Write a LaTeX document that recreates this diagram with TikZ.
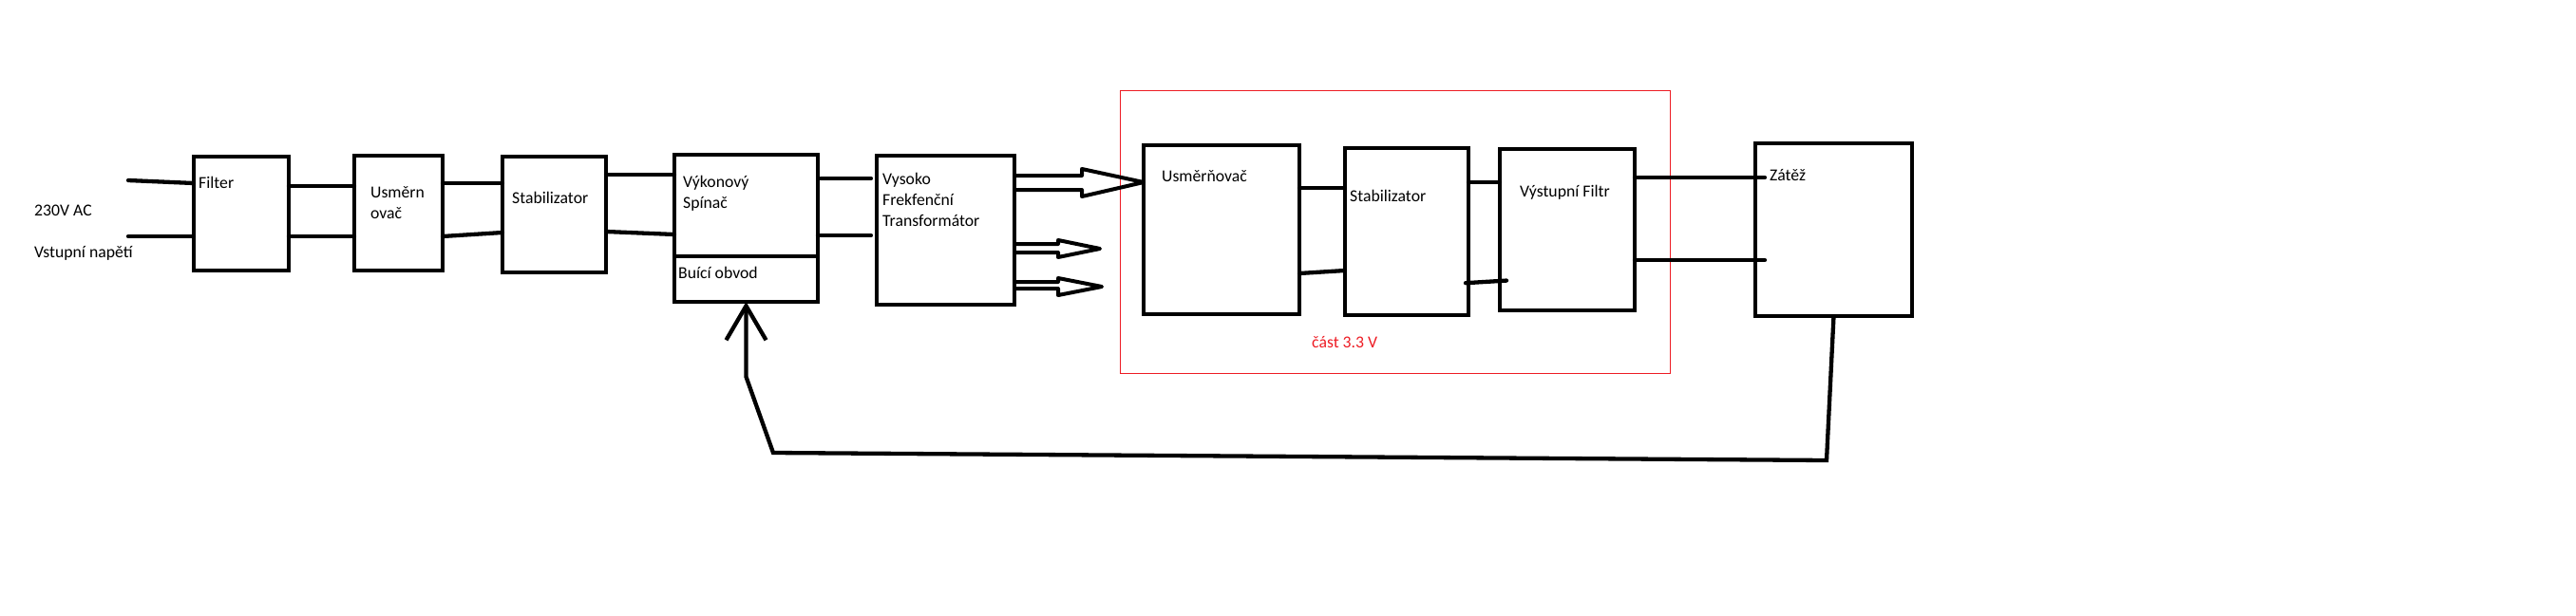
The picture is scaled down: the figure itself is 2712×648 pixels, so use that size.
\documentclass[tikz,border=0pt]{standalone}
\usepackage{fontspec}
\setmainfont{Carlito}
\usepackage{tikz}
\usetikzlibrary{arrows.meta,positioning}
\definecolor{paintred}{RGB}{237,28,36}

\begin{document}
\begin{tikzpicture}[x=1pt,y=-1pt,
block/.style={
rectangle,
draw,
line width=4.3pt,
inner sep=0pt,
outer sep=0pt
},
txt/.style={anchor=base west,inner sep=0pt,align=left,font=\fontsize{17.7}{22}\selectfont},
wire/.style={line width=4.3pt,line cap=round},
hollow/.style={line width=4pt,line join=round,line cap=round},
]
\useasboundingbox (0,0) rectangle (2712,648);
\node (cast) [rectangle,draw=paintred,line width=1pt,minimum width=579pt,minimum height=298pt] at (1468.5,244) {};
\node (filter) [block,minimum width=100pt,minimum height=120pt] at (254,225) {};
\node (usmern) [block,minimum width=93pt,minimum height=121pt] at (419.5,224.5) {};
\node (stab) [block,minimum width=109pt,minimum height=122pt] at (583.5,226) {};
\node (vykon) [block,minimum width=151pt,minimum height=107pt] at (785.5,216.5) {};
\node (buici) [block,minimum width=151pt,minimum height=48pt] at (785.5,294) {};
\node (vysoko) [block,minimum width=145pt,minimum height=157pt] at (995.5,242.5) {};
\node (usmer) [block,minimum width=164pt,minimum height=178pt] at (1286,242) {};
\node (stabb) [block,minimum width=130pt,minimum height=176pt] at (1481,244) {};
\node (vystup) [block,minimum width=142pt,minimum height=170pt] at (1650,242) {};
\node (zatez) [block,minimum width=165pt,minimum height=182pt] at (1930.5,242) {};
% texts (base = last line)
\node (lblac) [txt] at (36,227) {230V AC};
\node (lblin) [txt] at (36,271) {Vstupní napětí};
\node (lblfilter) [txt] at (209,198) {Filter};
\node (lblusmern) [txt] at (390,230) {Usměrn\\ovač};
\node (lblstab) [txt] at (539,214) {Stabilizator};
\node (lblvykon) [txt] at (719,219) {Výkonový\\Spínač};
\node (lblbuici) [txt] at (714,293) {Buící obvod};
\node (lblvysoko) [txt] at (929,238) {Vysoko\\Frekfenční\\Transformátor};
\node (lblusmer) [txt] at (1223,191) {Usměrňovač};
\node (lblstabb) [txt] at (1421,212) {Stabilizator};
\node (lblvystup) [txt] at (1600,207) {Výstupní Filtr};
\node (lblzatez) [txt] at (1863,190) {Zátěž};
\node (lblcast) [txt,text=paintred] at (1381,366) {část 3.3 V};
% wires
\coordinate (ac1) at (135,190);
\coordinate (ac2) at (135,249);
\draw[wire] (ac1) -- (filter.west |- 0,193);
\draw[wire] (ac2) -- (filter.west |- 0,249);
\draw[wire] (filter.east |- 0,196) -- (usmern.west |- 0,196);
\draw[wire] (filter.east |- 0,249) -- (usmern.west |- 0,249);
\draw[wire] (usmern.east |- 0,193) -- (stab.west |- 0,193);
\draw[wire] (usmern.east |- 0,249) -- (stab.west |- 0,245);
\draw[wire] (stab.east |- 0,184) -- (vykon.west |- 0,184);
\draw[wire] (stab.east |- 0,244) -- (vykon.west |- 0,247);
\draw[wire,shorten <=3pt,shorten >=6pt] (vykon.east |- 0,188) -- (vysoko.west |- 0,188);
\draw[wire,shorten >=6pt] (vykon.east |- 0,248) -- (vysoko.west |- 0,248);
\draw[wire] (usmer.east |- 0,198) -- (stabb.west |- 0,198);
\draw[wire] (usmer.east |- 0,288) -- (stabb.west |- 0,285);
\draw[wire] (stabb.east |- 0,192) -- (vystup.west |- 0,192);
\draw[wire,shorten <=-3pt,shorten >=-7pt] (stabb.east |- 0,298) -- (vystup.west |- 0,296);
\draw[wire,shorten >=-10pt] (vystup.east |- 0,187) -- (zatez.west |- 0,187);
\draw[wire,shorten >=-10pt] (vystup.east |- 0,274) -- (zatez.west |- 0,274);
% hollow arrows
\coordinate (out2) at (1158,262);
\coordinate (out3) at (1160,302);
\draw[hollow] (vysoko.east |- 0,185) -- (1139,185) -- (1139,178) -- (usmer.west |- 0,192) -- (1139,207) -- (1139,200) -- (vysoko.east |- 0,200);
\draw[hollow] (vysoko.east |- 0,257) -- (1114,257) -- (1114,253) -- (out2) -- (1114,271) -- (1114,266) -- (vysoko.east |- 0,266);
\draw[hollow] (vysoko.east |- 0,297) -- (1114,297) -- (1114,293) -- (out3) -- (1114,311) -- (1114,304) -- (vysoko.east |- 0,304);
% feedback
\draw[wire,line cap=butt,-{Straight Barb[length=36pt,width=42pt]}] (zatez.south) -- (1923,485) -- (814,477) -- (785.5,397) -- (buici.south);
\end{tikzpicture}
\end{document}
